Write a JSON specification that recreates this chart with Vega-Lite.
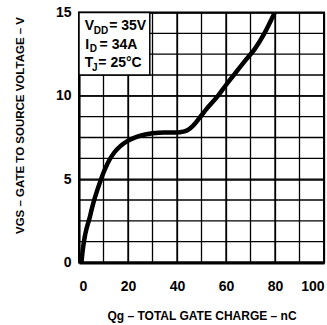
{
  "$schema": "https://vega.github.io/schema/vega-lite/v6.json",
  "autosize": "none",
  "width": 245,
  "height": 250,
  "padding": {"left": 79, "top": 12.5, "right": 3, "bottom": 62.5},
  "background": "white",
  "config": {
    "view": {"stroke": "black", "strokeWidth": 2},
    "axis": {
      "labelFont": "Liberation Sans",
      "labelFontSize": 14,
      "labelFontWeight": "bold",
      "labelColor": "black",
      "titleFont": "Liberation Sans",
      "titleFontWeight": "bold",
      "titleColor": "black",
      "tickOpacity": 0,
      "domainColor": "black"
    }
  },
  "datasets": {
    "curve": [
      {"q": 1.0, "v": 0.0},
      {"q": 1.5, "v": 0.7},
      {"q": 2.3, "v": 1.5},
      {"q": 3.2, "v": 2.1},
      {"q": 4.2, "v": 2.6},
      {"q": 5.2, "v": 3.2},
      {"q": 6.3, "v": 3.8},
      {"q": 7.6, "v": 4.4},
      {"q": 9.0, "v": 5.0},
      {"q": 10.6, "v": 5.6},
      {"q": 12.4, "v": 6.15},
      {"q": 14.4, "v": 6.6},
      {"q": 17.0, "v": 7.0},
      {"q": 19.9, "v": 7.3},
      {"q": 22.5, "v": 7.48},
      {"q": 25.4, "v": 7.62},
      {"q": 30.0, "v": 7.75},
      {"q": 35.0, "v": 7.8},
      {"q": 40.0, "v": 7.8},
      {"q": 42.5, "v": 7.85},
      {"q": 44.4, "v": 7.95},
      {"q": 46.5, "v": 8.2},
      {"q": 49.2, "v": 8.68},
      {"q": 52.0, "v": 9.2},
      {"q": 56.7, "v": 10.0},
      {"q": 60.0, "v": 10.65},
      {"q": 63.5, "v": 11.3},
      {"q": 67.5, "v": 12.05},
      {"q": 71.7, "v": 12.8},
      {"q": 75.5, "v": 13.7},
      {"q": 79.9, "v": 15.0}
    ],
    "xgrid": [{"g": 10}, {"g": 20}, {"g": 30}, {"g": 40}, {"g": 50}, {"g": 60}, {"g": 70}, {"g": 80}, {"g": 90}],
    "ygrid": [{"g": 1.25}, {"g": 2.5}, {"g": 3.75}, {"g": 5}, {"g": 6.25}, {"g": 7.5}, {"g": 8.75}, {"g": 10}, {"g": 11.25}, {"g": 12.5}, {"g": 13.75}],
    "box": [{"x1": 0, "x2": 28.9, "y1": 11.25, "y2": 15}],
    "notes": [
      {"x": 2.33, "y": 13.93, "t": "V", "role": "main"},
      {"x": 6.0, "y": 13.73, "t": "DD", "role": "sub"},
      {"x": 12.3, "y": 13.93, "t": "= 35V", "role": "main"},
      {"x": 2.58, "y": 12.83, "t": "I", "role": "main"},
      {"x": 4.38, "y": 12.63, "t": "D", "role": "sub"},
      {"x": 8.4, "y": 12.83, "t": "= 34A", "role": "main"},
      {"x": 2.33, "y": 11.73, "t": "T", "role": "main"},
      {"x": 5.3, "y": 11.47, "t": "J", "role": "sub"},
      {"x": 7.9, "y": 11.73, "t": "= 25°C", "role": "main"}
    ]
  },
  "layer": [
    {
      "data": {"name": "xgrid"},
      "mark": {"type": "rule", "stroke": "black", "strokeWidth": 1.3, "opacity": 1},
      "encoding": {
        "x": {"field": "g", "type": "quantitative", "scale": {"domain": [0, 100], "nice": false}}
      }
    },
    {
      "data": {"name": "ygrid"},
      "mark": {"type": "rule", "stroke": "black", "strokeWidth": 1.3, "opacity": 1},
      "encoding": {
        "y": {"field": "g", "type": "quantitative", "scale": {"domain": [0, 15], "nice": false}}
      }
    },
    {
      "data": {"name": "curve"},
      "mark": {"type": "line", "color": "black", "strokeWidth": 4.5, "interpolate": "monotone", "clip": true},
      "encoding": {
        "x": {
          "field": "q", "type": "quantitative",
          "scale": {"domain": [0, 100], "nice": false},
          "axis": {
            "values": [0, 20, 40, 60, 80, 100],
            "grid": true,
            "gridColor": "black",
            "gridWidth": 1.3,
            "gridOpacity": 1,
            "labelPadding": 12,
            "domainWidth": 3,
            "title": "Qg – TOTAL GATE CHARGE – nC",
            "titleFontSize": 12,
            "titleBaseline": "alphabetic",
            "titleY": 56.5
          }
        },
        "y": {
          "field": "v", "type": "quantitative",
          "scale": {"domain": [0, 15], "nice": false},
          "axis": {
            "values": [0, 5, 10, 15],
            "grid": true,
            "gridColor": "black",
            "gridWidth": 1.3,
            "gridOpacity": 1,
            "labelPadding": 3,
            "domainWidth": 2,
            "title": "VGS – GATE TO SOURCE VOLTAGE – V",
            "titleFontSize": 11.5,
            "titleBaseline": "alphabetic",
            "titleX": -55.7,
            "titleY": 112.5
          }
        }
      }
    },
    {
      "data": {"name": "box"},
      "mark": {"type": "rect", "fill": "white", "stroke": "black", "strokeWidth": 1.5},
      "encoding": {
        "x": {"field": "x1", "type": "quantitative"},
        "x2": {"field": "x2"},
        "y": {"field": "y1", "type": "quantitative"},
        "y2": {"field": "y2"}
      }
    },
    {
      "data": {"name": "notes"},
      "mark": {"type": "text", "align": "left", "baseline": "alphabetic", "font": "Liberation Sans", "fontWeight": "bold", "color": "black"},
      "encoding": {
        "x": {"field": "x", "type": "quantitative"},
        "y": {"field": "y", "type": "quantitative"},
        "text": {"field": "t"},
        "size": {"field": "role", "type": "nominal", "scale": {"domain": ["main", "sub"], "range": [14, 10]}, "legend": null}
      }
    }
  ]
}
